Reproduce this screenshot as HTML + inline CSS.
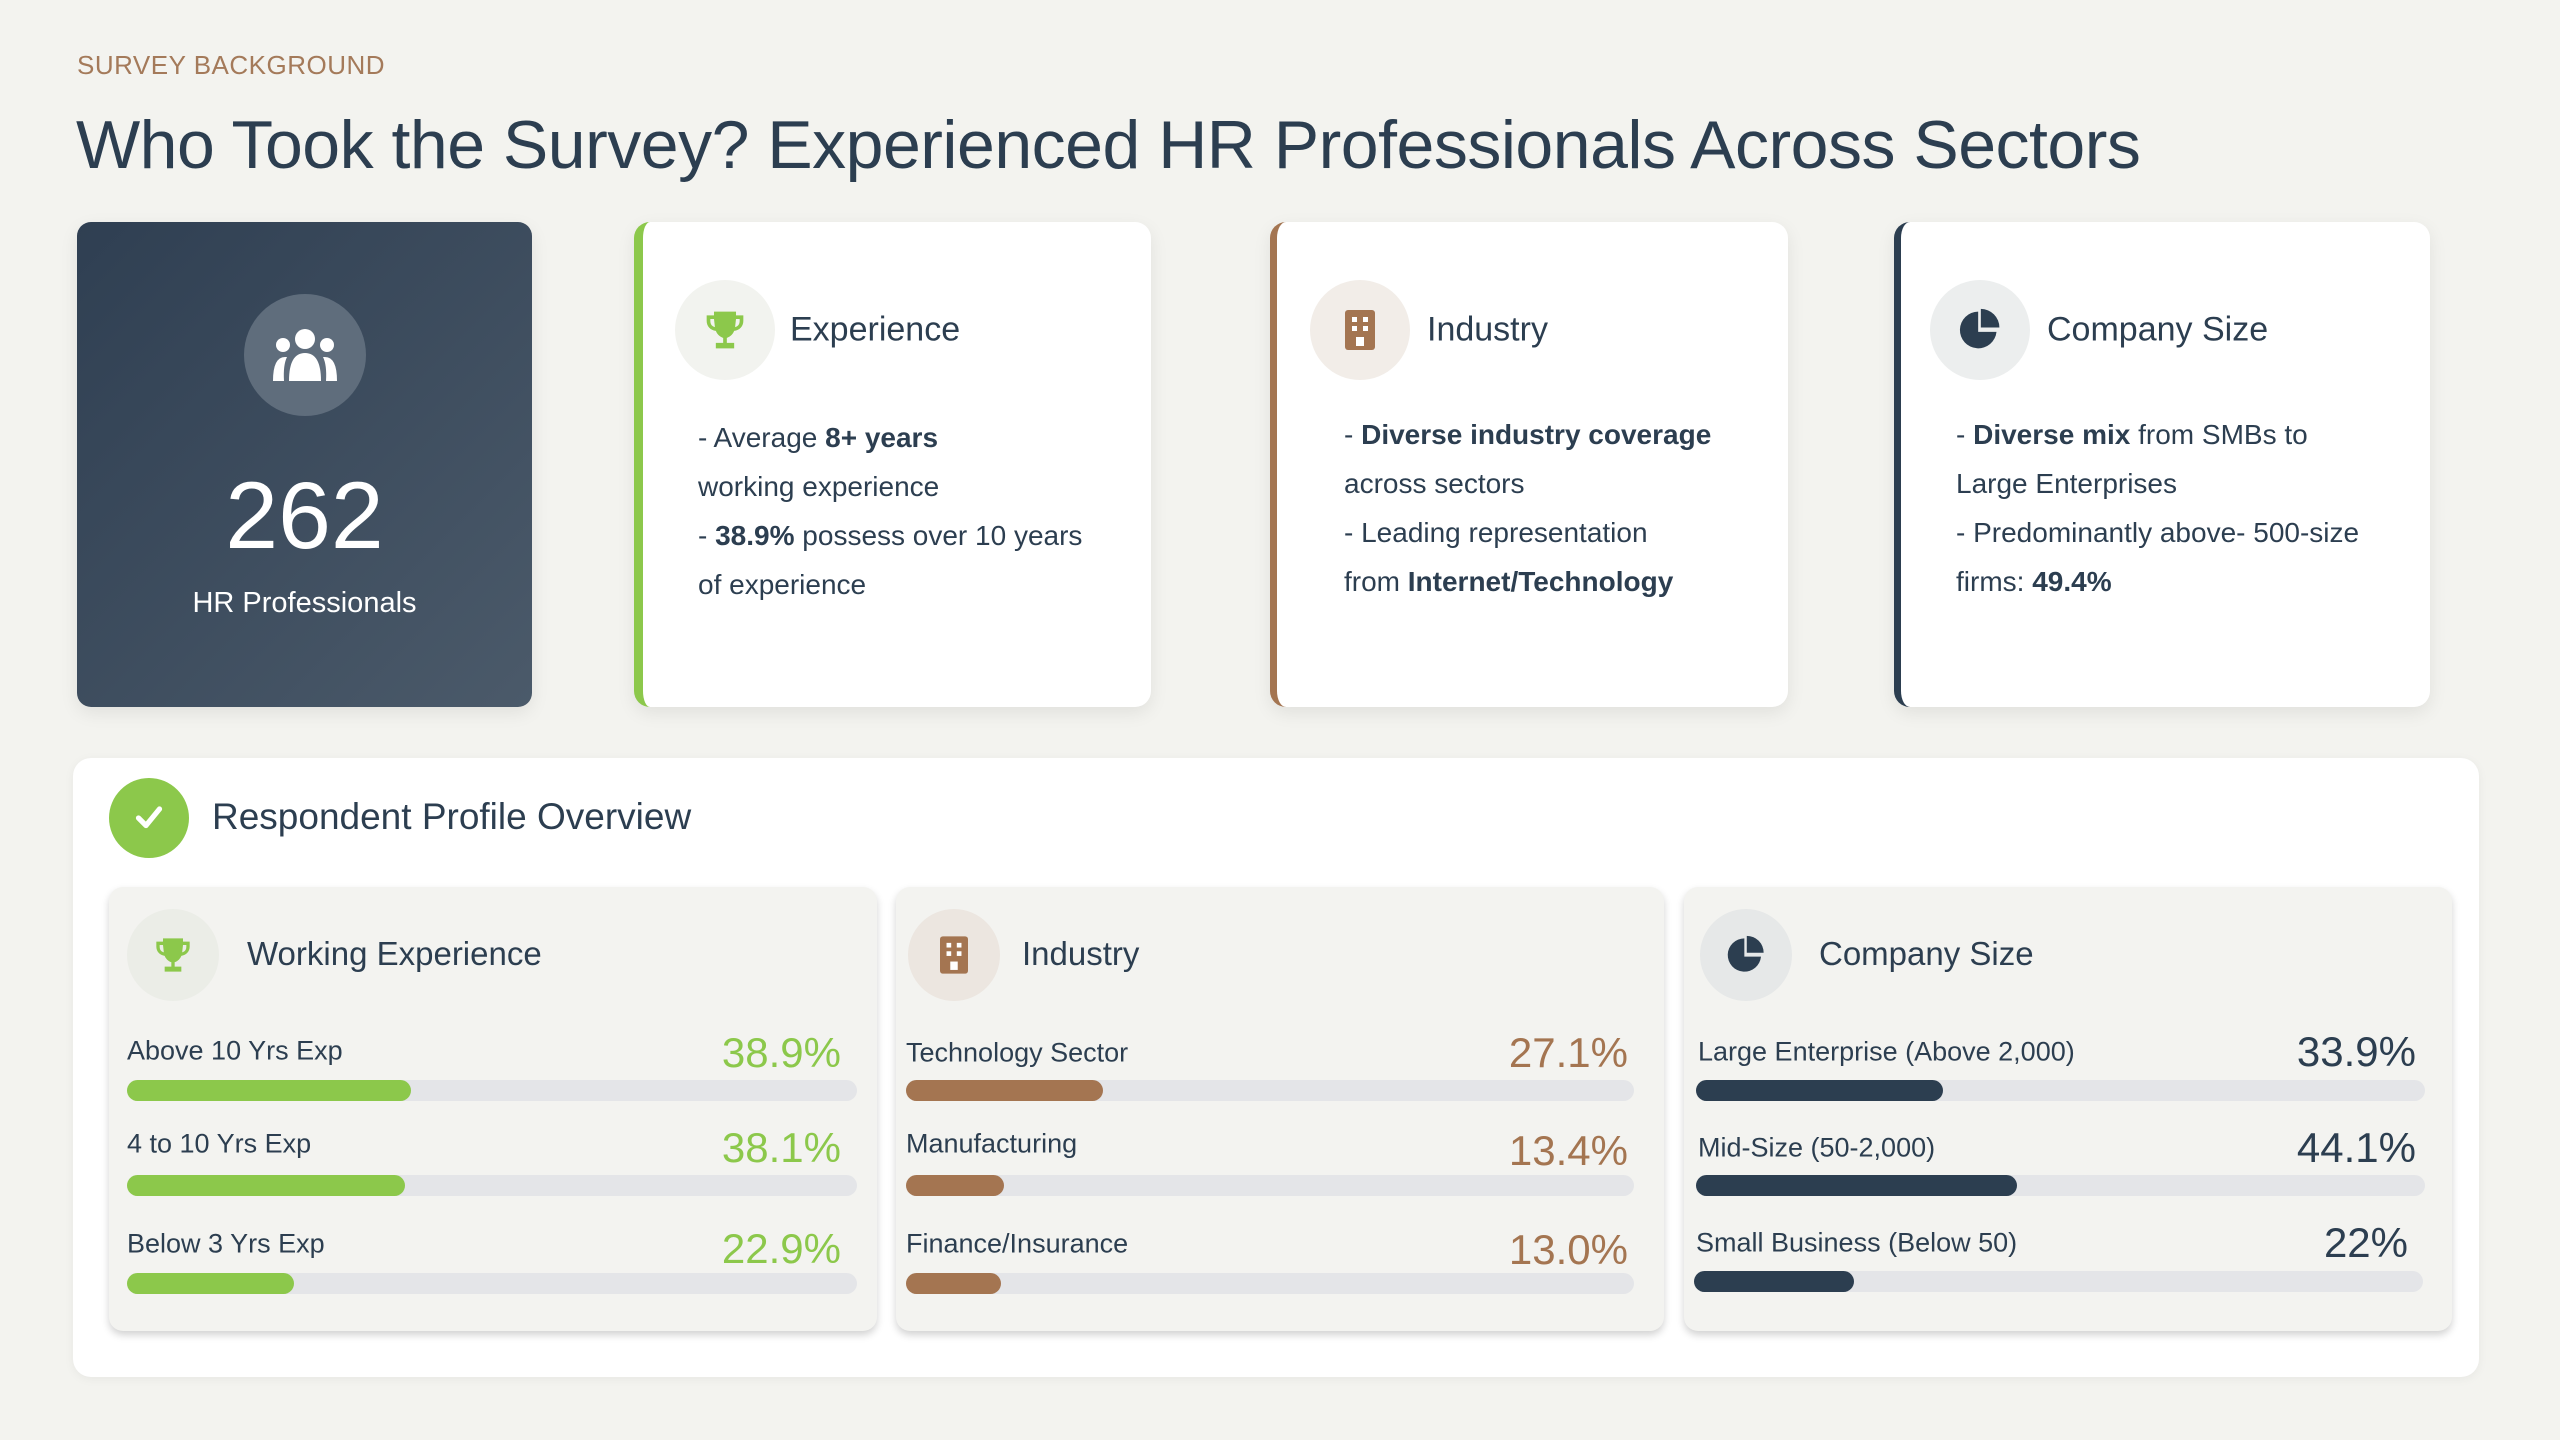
<!DOCTYPE html>
<html><head><meta charset="utf-8"><style>
*{margin:0;padding:0;box-sizing:border-box}
body{width:2560px;height:1440px;background:#f3f3ef;font-family:"Liberation Sans",sans-serif;color:#2c3e50;position:relative;overflow:hidden}
.a{position:absolute}
.card{position:absolute;background:#fff;border-radius:16px;box-shadow:0 6px 18px rgba(0,0,0,0.08)}
.ic{position:absolute;border-radius:50%;display:flex;align-items:center;justify-content:center}
.ct{position:absolute;font-size:34px;transform:translateY(-50%);white-space:nowrap}
.tx{position:absolute;font-size:28px;line-height:49px;color:#2c3e50}
.tx b{font-weight:bold}
.sub{position:absolute;top:887px;width:768px;height:444px;background:#f3f3f0;border-radius:14px;box-shadow:0 4px 8px rgba(0,0,0,0.18)}
.lab{position:absolute;font-size:27px;transform:translateY(-50%);white-space:nowrap}
.pct{position:absolute;right:36px;font-size:42px;transform:translateY(-50%)}
.bar{position:absolute;height:21px;border-radius:11px;background:#e4e5e8}
.bar i{display:block;height:100%;border-radius:11px}
</style></head><body>
<div class="a" style="left:77px;top:50px;font-size:26px;color:#a47a5a;letter-spacing:0.5px">SURVEY BACKGROUND</div>
<div class="a" style="left:76px;top:106px;font-size:68px;color:#2c3e50;letter-spacing:-0.5px">Who Took the Survey? Experienced HR Professionals Across Sectors</div>

<div class="card" style="left:77px;top:222px;width:455px;height:485px;background:linear-gradient(135deg,#2f3f52,#4b5a6a);border-radius:14px">
 <div class="ic" style="left:167px;top:72px;width:122px;height:122px;background:#5f6d7c">
  <svg width="72" height="60" viewBox="0 0 72 60"><circle cx="36" cy="14" r="10" fill="#fff"/><circle cx="14" cy="20" r="7" fill="#fff"/><circle cx="58" cy="20" r="7" fill="#fff"/><path d="M20 56 Q20 28 36 28 Q52 28 52 56Z" fill="#fff"/><path d="M4 56 Q4 32 16 32 L18 32 Q14 40 15 56Z" fill="#fff"/><path d="M68 56 Q68 32 56 32 L54 32 Q58 40 57 56Z" fill="#fff"/></svg>
 </div>
 <div class="a" style="left:0;width:455px;top:240px;text-align:center;font-size:95px;color:#fff">262</div>
 <div class="a" style="left:0;width:455px;top:365px;text-align:center;font-size:29px;color:#fff">HR Professionals</div>
</div>

<div class="card" style="left:634px;top:222px;width:517px;height:485px;border-left:9px solid #8cc84b">
 <div class="ic" style="left:32px;top:58px;width:100px;height:100px;background:#f2f3ef"><svg width="44" height="44" viewBox="0 0 24 24"><path d="M6 2h12v2h4v3c0 3-2 5-5 5.5C16 15 14 16 13 16.3V19h4v3H7v-3h4v-2.7C10 16 8 15 7 12.5 4 12 2 10 2 7V4h4zM4 6v1c0 2 1 3 2.5 3.4L6 6zm16 0h-2l-.5 4.4C19 10 20 9 20 7z" fill="#8cc84b"/></svg></div>
 <div class="ct" style="left:147px;top:108px">Experience</div>
 <div class="tx" style="left:55px;top:191px">- Average <b>8+ years</b><br>working experience<br>- <b>38.9%</b> possess over 10 years<br>of experience</div>
</div>

<div class="card" style="left:1270px;top:222px;width:518px;height:485px;border-left:7px solid #a47551">
 <div class="ic" style="left:33px;top:58px;width:100px;height:100px;background:#f2ede8"><svg width="30" height="40" viewBox="0 0 30 40"><rect width="30" height="40" rx="3" fill="#a47551"/><g fill="#fff"><rect x="7" y="7" width="5" height="5"/><rect x="18" y="7" width="5" height="5"/><rect x="7" y="16" width="5" height="5"/><rect x="18" y="16" width="5" height="5"/><rect x="11" y="27" width="8" height="9"/></g></svg></div>
 <div class="ct" style="left:150px;top:108px">Industry</div>
 <div class="tx" style="left:67px;top:188px">- <b>Diverse industry coverage</b><br>across sectors<br>- Leading representation<br>from <b>Internet/Technology</b></div>
</div>

<div class="card" style="left:1894px;top:222px;width:536px;height:485px;border-left:7px solid #2c3e50">
 <div class="ic" style="left:29px;top:58px;width:100px;height:100px;background:#eceeee"><svg width="44" height="44" viewBox="0 0 24 24"><path d="M11 2A10 10 0 1 0 21 13H11z" fill="#2c3e50"/><path d="M13 0v11h11A11 11 0 0 0 13 0z" fill="#2c3e50" transform="translate(0.5,0.5) scale(0.92)"/></svg></div>
 <div class="ct" style="left:146px;top:108px">Company Size</div>
 <div class="tx" style="left:55px;top:188px">- <b>Diverse mix</b> from SMBs to<br>Large Enterprises<br>- Predominantly above- 500-size<br>firms: <b>49.4%</b></div>
</div>

<div class="card" style="left:73px;top:758px;width:2406px;height:619px;border-radius:18px;box-shadow:0 2px 10px rgba(0,0,0,0.05)">
 <div class="ic" style="left:36px;top:20px;width:80px;height:80px;background:#8cc84b"><svg width="36" height="36" viewBox="0 0 24 24"><path d="M5 12l5 5 9-11" stroke="#fff" stroke-width="3.5" fill="none" stroke-linecap="round" stroke-linejoin="round"/></svg></div>
 <div class="ct" style="left:139px;top:59px;font-size:37px">Respondent Profile Overview</div>
</div>

<div class="sub" style="left:109px">
 <div class="ic" style="left:18px;top:22px;width:92px;height:92px;background:#ebede7"><svg width="40" height="40" viewBox="0 0 24 24"><path d="M6 2h12v2h4v3c0 3-2 5-5 5.5C16 15 14 16 13 16.3V19h4v3H7v-3h4v-2.7C10 16 8 15 7 12.5 4 12 2 10 2 7V4h4zM4 6v1c0 2 1 3 2.5 3.4L6 6zm16 0h-2l-.5 4.4C19 10 20 9 20 7z" fill="#8cc84b"/></svg></div>
 <div class="ct" style="left:138px;top:67px;font-size:33px">Working Experience</div>
 <div class="lab" style="left:18px;top:164px">Above 10 Yrs Exp</div><div class="pct" style="top:166px;color:#8cc84b">38.9%</div>
 <div class="bar" style="left:18px;top:193px;width:730px"><i style="width:38.9%;background:#8cc84b"></i></div>
 <div class="lab" style="left:18px;top:257px">4 to 10 Yrs Exp</div><div class="pct" style="top:261px;color:#8cc84b">38.1%</div>
 <div class="bar" style="left:18px;top:288px;width:730px"><i style="width:38.1%;background:#8cc84b"></i></div>
 <div class="lab" style="left:18px;top:357px">Below 3 Yrs Exp</div><div class="pct" style="top:362px;color:#8cc84b">22.9%</div>
 <div class="bar" style="left:18px;top:386px;width:730px"><i style="width:22.9%;background:#8cc84b"></i></div>
</div>

<div class="sub" style="left:896px">
 <div class="ic" style="left:12px;top:22px;width:92px;height:92px;background:#ece6e0"><svg width="28" height="38" viewBox="0 0 30 40"><rect width="30" height="40" rx="3" fill="#a47551"/><g fill="#fff"><rect x="7" y="7" width="5" height="5"/><rect x="18" y="7" width="5" height="5"/><rect x="7" y="16" width="5" height="5"/><rect x="18" y="16" width="5" height="5"/><rect x="11" y="27" width="8" height="9"/></g></svg></div>
 <div class="ct" style="left:126px;top:67px;font-size:33px">Industry</div>
 <div class="lab" style="left:10px;top:166px">Technology Sector</div><div class="pct" style="top:166px;color:#a47551">27.1%</div>
 <div class="bar" style="left:10px;top:193px;width:728px"><i style="width:27.1%;background:#a47551"></i></div>
 <div class="lab" style="left:10px;top:257px">Manufacturing</div><div class="pct" style="top:264px;color:#a47551">13.4%</div>
 <div class="bar" style="left:10px;top:288px;width:728px"><i style="width:13.4%;background:#a47551"></i></div>
 <div class="lab" style="left:10px;top:357px">Finance/Insurance</div><div class="pct" style="top:363px;color:#a47551">13.0%</div>
 <div class="bar" style="left:10px;top:386px;width:728px"><i style="width:13%;background:#a47551"></i></div>
</div>

<div class="sub" style="left:1684px">
 <div class="ic" style="left:16px;top:22px;width:92px;height:92px;background:#e6e8e8"><svg width="40" height="40" viewBox="0 0 24 24"><path d="M11 2A10 10 0 1 0 21 13H11z" fill="#2c3e50"/><path d="M13 0v11h11A11 11 0 0 0 13 0z" fill="#2c3e50" transform="translate(0.5,0.5) scale(0.92)"/></svg></div>
 <div class="ct" style="left:135px;top:67px;font-size:33px">Company Size</div>
 <div class="lab" style="left:14px;top:165px">Large Enterprise (Above 2,000)</div><div class="pct" style="top:165px;color:#2c3e50">33.9%</div>
 <div class="bar" style="left:12px;top:193px;width:729px"><i style="width:33.9%;background:#2c3e50"></i></div>
 <div class="lab" style="left:14px;top:261px">Mid-Size (50-2,000)</div><div class="pct" style="top:261px;color:#2c3e50">44.1%</div>
 <div class="bar" style="left:12px;top:288px;width:729px"><i style="width:44.1%;background:#2c3e50"></i></div>
 <div class="lab" style="left:12px;top:356px">Small Business (Below 50)</div><div class="pct" style="top:356px;color:#2c3e50;right:44px">22%</div>
 <div class="bar" style="left:10px;top:384px;width:729px"><i style="width:22%;background:#2c3e50"></i></div>
</div>
</body></html>
